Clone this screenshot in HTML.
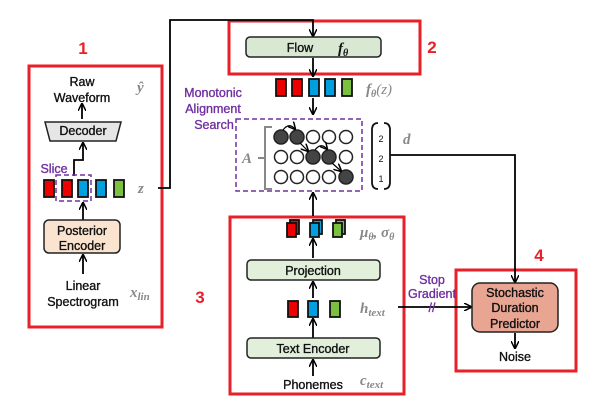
<!DOCTYPE html>
<html><head><meta charset="utf-8"><style>body{margin:0;background:#fff}svg{display:block}</style></head><body>
<svg width="600" height="400" viewBox="0 0 600 400" xmlns="http://www.w3.org/2000/svg" font-family="Liberation Sans, sans-serif">
<defs>
<marker id="ar" markerWidth="8" markerHeight="8" refX="7" refY="4" orient="auto" markerUnits="userSpaceOnUse"><path d="M0,0 L8,4 L0,8" fill="none" stroke="#000" stroke-width="1.5"/></marker>
</defs>
<g fill="none" stroke="#e8202a" stroke-width="3">
<rect x="29" y="66" width="133" height="261"/>
<rect x="229" y="21" width="191" height="53"/>
<rect x="230" y="217" width="174" height="177"/>
<rect x="456" y="270" width="120" height="101"/>
</g>
<g fill="#e8202a" font-weight="bold" font-size="17" text-anchor="middle">
<text x="83" y="54">1</text><text x="432" y="53">2</text><text x="200" y="303">3</text><text x="539" y="261">4</text>
</g>
<g stroke="#000" stroke-width="1.8" fill="none">
<polyline points="158,188 170,188 170,20 313,20 313,36" marker-end="url(#ar)"/>
<line x1="313" y1="58" x2="313" y2="76" marker-end="url(#ar)"/>
<line x1="313" y1="98" x2="313" y2="114" marker-end="url(#ar)"/>
<line x1="313" y1="216" x2="313" y2="193" marker-end="url(#ar)"/>
<line x1="313" y1="258" x2="313" y2="239" marker-end="url(#ar)"/>
<line x1="313" y1="298" x2="313" y2="282" marker-end="url(#ar)"/>
<line x1="313" y1="338" x2="313" y2="319" marker-end="url(#ar)"/>
<line x1="313" y1="376" x2="313" y2="360" marker-end="url(#ar)"/>
<polyline points="390,155 515,155 515,282" marker-end="url(#ar)"/>
<line x1="398" y1="307" x2="471" y2="307" marker-end="url(#ar)"/>
<line x1="515" y1="333" x2="515" y2="348" marker-end="url(#ar)"/>
<line x1="82" y1="119" x2="82" y2="104" marker-end="url(#ar)"/>
<polyline points="74,176 74,160 83,160 83,143" marker-end="url(#ar)"/>
<line x1="83" y1="220" x2="83" y2="203" marker-end="url(#ar)"/>
<line x1="83" y1="274" x2="83" y2="255" marker-end="url(#ar)"/>
</g>
<g stroke="#222" stroke-width="1.5">
<rect x="246" y="37" width="135" height="20" rx="4" fill="#d9e8d3"/>
<rect x="247" y="260" width="133" height="20" rx="4" fill="#e2efdb"/>
<rect x="247" y="338" width="133" height="20" rx="4" fill="#e2efdb"/>
<rect x="472" y="283" width="86" height="49" rx="8" fill="#e8a592"/>
<rect x="44" y="220" width="76" height="33" rx="5" fill="#fbe4cf"/>
<polygon points="45,122 121,122 116,141 50,141" fill="#e6e6e6"/>
</g>
<g font-size="12.5" text-anchor="middle" fill="#111" stroke="#111" stroke-width="0.35">
<text x="300" y="52">Flow</text>
<text x="313" y="275">Projection</text>
<text x="313" y="353">Text Encoder</text>
<text x="313" y="389">Phonemes</text>
<text x="515" y="297">Stochastic</text><text x="515" y="312">Duration</text><text x="515" y="328">Predictor</text>
<text x="515" y="361">Noise</text>
<text x="83" y="135">Decoder</text>
<text x="82" y="235">Posterior</text><text x="82" y="250">Encoder</text>
<text x="82" y="86">Raw</text><text x="82" y="102">Waveform</text>
<text x="83" y="290">Linear</text><text x="83" y="306">Spectrogram</text>
</g>
<g font-family="Liberation Serif, serif" font-style="italic" font-weight="bold" fill="#888" font-size="15">
<text x="338" y="53" fill="#111">f<tspan font-size="10" dy="3">θ</tspan></text>
<text x="366" y="94">f<tspan font-size="10" dy="3">θ</tspan><tspan dy="-3" font-weight="normal">(z)</tspan></text>
<text x="242" y="163">A</text>
<text x="403" y="144">d</text>
<text x="360" y="237">μ<tspan font-size="10" dy="3">θ</tspan><tspan dy="-3">, σ</tspan><tspan font-size="10" dy="3">θ</tspan></text>
<text x="360" y="313">h<tspan font-size="11" dy="3">text</tspan></text>
<text x="360" y="385">c<tspan font-size="11" dy="3">text</tspan></text>
<text x="137" y="92">ŷ</text>
<text x="138" y="193">z</text>
<text x="130" y="297">x<tspan font-size="11" dy="3">lin</tspan></text>
</g>
<g fill="#7030a0" font-size="12.5" text-anchor="middle" stroke="#7030a0" stroke-width="0.35">
<text x="213" y="97">Monotonic</text><text x="213" y="113">Alignment</text><text x="214" y="129">Search</text>
<text x="54" y="173">Slice</text>
<text x="432" y="284">Stop</text><text x="432" y="298">Gradient</text><text x="432" y="312">//</text>
</g>
<g stroke="#111" stroke-width="1.8">
<rect x="44" y="180" width="10" height="17" fill="#e00"/>
<rect x="62" y="180" width="10" height="17" fill="#e00"/>
<rect x="78" y="180" width="10" height="17" fill="#00a0e0"/>
<rect x="96" y="180" width="10" height="17" fill="#00a0e0"/>
<rect x="114" y="180" width="10" height="17" fill="#7cc040"/>
<rect x="276" y="79" width="10" height="17" fill="#e00"/>
<rect x="292" y="79" width="10" height="17" fill="#e00"/>
<rect x="309" y="79" width="10" height="17" fill="#00a0e0"/>
<rect x="325" y="79" width="10" height="17" fill="#00a0e0"/>
<rect x="342" y="79" width="10" height="17" fill="#7cc040"/>
<rect x="288" y="301" width="10" height="16" fill="#e00"/>
<rect x="308" y="301" width="10" height="16" fill="#00a0e0"/>
<rect x="330" y="301" width="10" height="16" fill="#7cc040"/>
<rect x="290" y="220" width="9" height="14" fill="#e00"/><rect x="287" y="223" width="9" height="14" fill="#e00"/>
<rect x="313" y="220" width="9" height="14" fill="#00a0e0"/><rect x="310" y="223" width="9" height="14" fill="#00a0e0"/>
<rect x="336" y="220" width="9" height="14" fill="#7cc040"/><rect x="333" y="223" width="9" height="14" fill="#7cc040"/>
</g>
<g fill="none" stroke="#7030a0" stroke-width="1.5" stroke-dasharray="5,3">
<rect x="56" y="175" width="35" height="26"/>
<rect x="236" y="119" width="126" height="72"/>
</g>
<path d="M272,127 L265,127 L265,189 L272,189 M265,158 L258,158" fill="none" stroke="#888" stroke-width="2"/>
<path d="M378,123 Q372,123 372,130 L372,182 Q372,189 378,189 M384,123 Q390,123 390,130 L390,182 Q390,189 384,189" fill="none" stroke="#111" stroke-width="1.8"/>
<g font-size="9" text-anchor="middle" fill="#111"><text x="381" y="142">2</text><text x="381" y="162">2</text><text x="381" y="182">1</text></g>
<g stroke="#222" stroke-width="1.5" fill="#fff">
<circle cx="281" cy="137" r="7" fill="#444"/><circle cx="297" cy="137" r="7" fill="#444"/><circle cx="313" cy="137" r="6.5"/><circle cx="329" cy="137" r="6.5"/><circle cx="346" cy="137" r="6.5"/>
<circle cx="281" cy="157" r="6.5"/><circle cx="297" cy="157" r="6.5"/><circle cx="313" cy="157" r="7" fill="#444"/><circle cx="329" cy="157" r="7" fill="#444"/><circle cx="346" cy="157" r="6.5"/>
<circle cx="281" cy="177" r="6.5"/><circle cx="297" cy="177" r="6.5"/><circle cx="313" cy="177" r="6.5"/><circle cx="329" cy="177" r="6.5"/><circle cx="346" cy="177" r="7" fill="#444"/>
</g>
<g stroke="#000" stroke-width="1.2" fill="none">
<path d="M283,130 Q289,122 295,129" marker-end="url(#ar)"/>
<line x1="300" y1="143" x2="308" y2="151" marker-end="url(#ar)"/>
<path d="M315,150 Q321,142 327,149" marker-end="url(#ar)"/>
<line x1="332" y1="163" x2="341" y2="171" marker-end="url(#ar)"/>
</g>
</svg>
</body></html>
